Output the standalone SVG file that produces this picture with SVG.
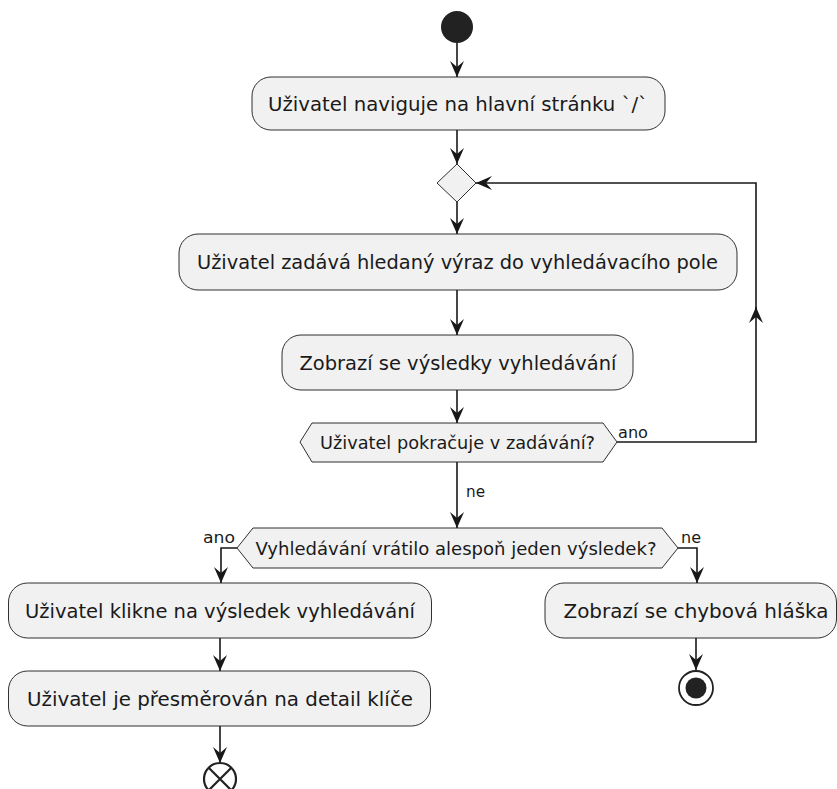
<svg xmlns="http://www.w3.org/2000/svg" width="837" height="789" viewBox="0 0 837 789">
  <style>
    .act { fill: #F1F1F1; stroke: #181818; stroke-width: 0.9; }
    .txt { font-family: "DejaVu Sans", "Noto Sans", sans-serif; font-size: 19.5px; fill: #1a1a1a; text-anchor: middle; }
    .dtxt { font-family: "DejaVu Sans", "Noto Sans", sans-serif; font-size: 17px; fill: #1a1a1a; text-anchor: middle; }
    .lbl { font-family: "DejaVu Sans", "Noto Sans", sans-serif; font-size: 16px; fill: #1a1a1a; }
    .edge { fill: none; stroke: #181818; stroke-width: 1.6; marker-end: url(#arrow); }
  </style>
  <defs>
    <marker id="arrow" markerUnits="userSpaceOnUse" markerWidth="20" markerHeight="20" viewBox="-18 -9 20 18" refX="0" refY="0" orient="auto">
      <path d="M0,0 L-16,-7 L-10,0 L-16,7 Z" fill="#181818"/>
    </marker>
  </defs>
  <rect width="837" height="789" fill="#FFFFFF"/>

  <!-- flow connectors -->
  <g id="connectors">
    <path class="edge" d="M457,43 V77"/>
    <path class="edge" d="M457,130 V164"/>
    <path class="edge" d="M457,202 V234"/>
    <path class="edge" d="M457,290 V335"/>
    <path class="edge" d="M457,390 V423"/>
    <path class="edge" d="M457,462 V528"/>
    <text class="lbl" x="466" y="497" textLength="19" lengthAdjust="spacingAndGlyphs">ne</text>
    <!-- repeat loop back to the merge -->
    <path class="edge" d="M617,442 H756 V307"/>
    <path class="edge" d="M756,309 V183 H476"/>
    <text class="lbl" x="618" y="438" textLength="30" lengthAdjust="spacingAndGlyphs">ano</text>
    <path class="edge" d="M237,548 H221 V583"/>
    <text class="lbl" x="203" y="543" textLength="32" lengthAdjust="spacingAndGlyphs">ano</text>
    <path class="edge" d="M678,548 H697 V583"/>
    <text class="lbl" x="681" y="543" textLength="20" lengthAdjust="spacingAndGlyphs">ne</text>
    <path class="edge" d="M220,638 V671"/>
    <path class="edge" d="M220,726 V763"/>
    <path class="edge" d="M696,638 V670"/>
  </g>

  <g id="start">
    <circle cx="457" cy="27" r="16" fill="#222222"/>
  </g>

  <g id="navigate">
    <rect class="act" x="252" y="77" width="413" height="53" rx="19"/>
    <text class="txt" x="458" y="110.5" textLength="380" lengthAdjust="spacingAndGlyphs">Uživatel naviguje na hlavní stránku `/`</text>
  </g>

  <g id="merge">
    <polygon class="act" points="437,183 457,164 476,183 457,202"/>
  </g>

  <g id="enter-query">
    <rect class="act" x="179" y="234" width="558" height="56" rx="19"/>
    <text class="txt" x="457.5" y="269" textLength="521" lengthAdjust="spacingAndGlyphs">Uživatel zadává hledaný výraz do vyhledávacího pole</text>
  </g>

  <g id="show-results">
    <rect class="act" x="282" y="335" width="351" height="55" rx="19"/>
    <text class="txt" x="458" y="369.5" textLength="317" lengthAdjust="spacingAndGlyphs">Zobrazí se výsledky vyhledávání</text>
  </g>

  <g id="continue-typing">
    <polygon class="act" points="300,442 312,423 603,423 617,442 603,462 312,462"/>
    <text class="dtxt" x="457.5" y="448.5" textLength="275" lengthAdjust="spacingAndGlyphs">Uživatel pokračuje v zadávání?</text>
  </g>

  <g id="has-result">
    <polygon class="act" points="237,548 253,528 662,528 678,548 662,568 253,568"/>
    <text class="dtxt" x="456" y="554.5" textLength="401" lengthAdjust="spacingAndGlyphs">Vyhledávání vrátilo alespoň jeden výsledek?</text>
  </g>

  <g id="click-result">
    <rect class="act" x="8.5" y="583" width="423" height="55" rx="19"/>
    <text class="txt" x="220" y="617.5" textLength="390" lengthAdjust="spacingAndGlyphs">Uživatel klikne na výsledek vyhledávání</text>
  </g>

  <g id="redirect-detail">
    <rect class="act" x="8.5" y="671" width="422" height="55" rx="19"/>
    <text class="txt" x="220" y="705.5" textLength="386" lengthAdjust="spacingAndGlyphs">Uživatel je přesměrován na detail klíče</text>
  </g>

  <g id="error-message">
    <rect class="act" x="545" y="583" width="291.5" height="55" rx="19"/>
    <text class="txt" x="696" y="617.5" textLength="265" lengthAdjust="spacingAndGlyphs">Zobrazí se chybová hláška</text>
  </g>

  <g id="stop">
    <circle cx="696" cy="688" r="17" fill="#FFFFFF" stroke="#222222" stroke-width="1.8"/>
    <circle cx="696" cy="688" r="10.5" fill="#222222"/>
  </g>

  <g id="flow-end">
    <circle cx="220" cy="779" r="16" fill="#FFFFFF" stroke="#222222" stroke-width="2.2"/>
    <path d="M208.7,767.7 L231.3,790.3 M231.3,767.7 L208.7,790.3" stroke="#222222" stroke-width="2.2"/>
  </g>
</svg>
